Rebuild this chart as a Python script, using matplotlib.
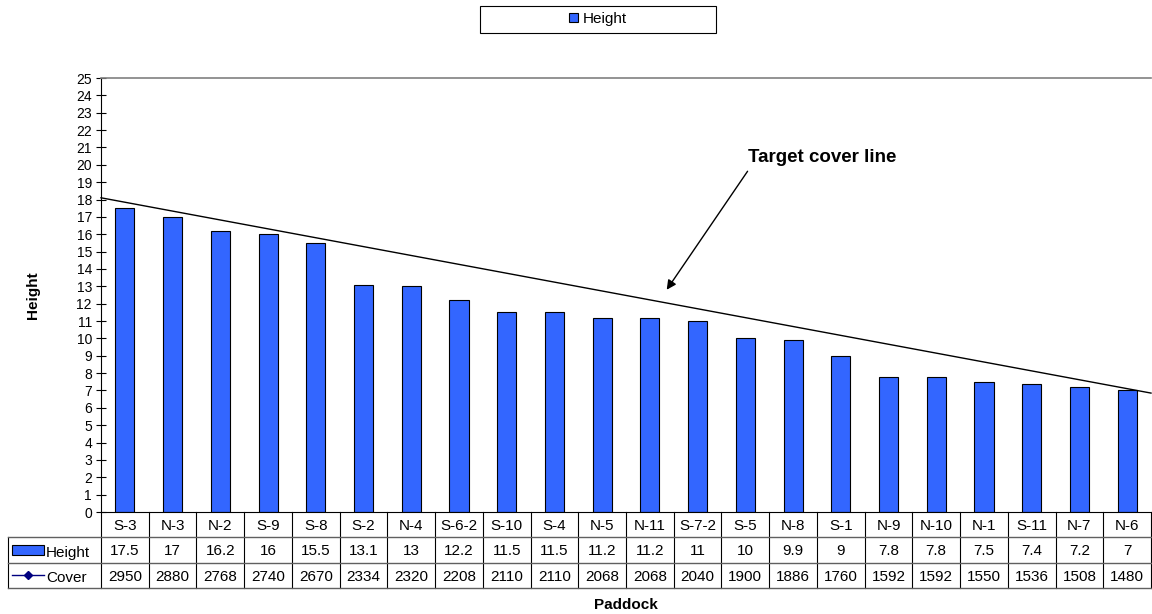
import matplotlib.pyplot as plt
from matplotlib.patches import Rectangle

plt.rcParams['font.family'] = ['Liberation Sans', 'DejaVu Sans']

paddocks = ['S-3', 'N-3', 'N-2', 'S-9', 'S-8', 'S-2', 'N-4', 'S-6-2', 'S-10', 'S-4', 'N-5',
            'N-11', 'S-7-2', 'S-5', 'N-8', 'S-1', 'N-9', 'N-10', 'N-1', 'S-11', 'N-7', 'N-6']
height = [17.5, 17, 16.2, 16, 15.5, 13.1, 13, 12.2, 11.5, 11.5, 11.2,
          11.2, 11, 10, 9.9, 9, 7.8, 7.8, 7.5, 7.4, 7.2, 7]
cover = [2950, 2880, 2768, 2740, 2670, 2334, 2320, 2208, 2110, 2110, 2068,
         2068, 2040, 1900, 1886, 1760, 1592, 1592, 1550, 1536, 1508, 1480]
target_ends = [18.1, 6.85]  # target cover line, left and right edge of the plot

W, H = 1152, 614
fig = plt.figure(figsize=(W / 100, H / 100), dpi=100)

x0, x1 = 101, 1151
ax = fig.add_axes([x0 / W, 1 - 512 / H, (x1 - x0) / W, (512 - 78) / H])
n = len(paddocks)
xs = list(range(n))
ax.bar(xs, height, width=0.4, color='#3366FF', edgecolor='black', linewidth=0.8, zorder=2)
ax.set_xlim(-0.5, n - 0.5)
ax.set_ylim(0, 25)
ax.set_yticks(range(0, 26))
ax.tick_params(axis='y', direction='inout', length=7, labelsize=10, pad=3)
ax.set_xticks([])
ax.spines['top'].set_color('#808080')
ax.spines['top'].set_linewidth(1.2)
ax.spines['right'].set_visible(False)
ax.spines['left'].set_linewidth(0.8)
ax.spines['bottom'].set_linewidth(0.8)

ax.plot([-0.5, n - 0.5], target_ends, color='black', linewidth=1, zorder=3, clip_on=False)
ax.text(14.61, 20.4, 'Target cover line', ha='center', va='center', fontsize=13.5, fontweight='bold')
ax.annotate('', xy=(11.32, 12.67), xytext=(13.08, 19.76),
            arrowprops=dict(arrowstyle='-|>', color='black', lw=1, mutation_scale=14))

fig.text(33 / W, 1 - 295 / H, 'Height', rotation=90, ha='center', va='center',
         fontsize=11, fontweight='bold')
fig.text(626 / W, 1 - 605 / H, 'Paddock', ha='center', va='center', fontsize=11, fontweight='bold')

# data table under the chart
tx = fig.add_axes([x0 / W, 1 - 588 / H, (x1 - x0) / W, (588 - 512) / H])
tx.set_xlim(-0.5, n - 0.5)
tx.set_ylim(3, 0)
tx.axis('off')
colw = (x1 - x0) / n
left = -0.5 - (x0 - 8) / colw
for i in range(n + 1):
    tx.plot([i - 0.5, i - 0.5], [0, 3], color='black', lw=0.8, clip_on=False)
tx.plot([left, left], [1, 3], color='black', lw=0.8, clip_on=False)
for r in [1, 2, 3]:
    tx.plot([left, n - 0.5], [r, r], color='#606060', lw=1, clip_on=False)
for i in range(n):
    tx.text(i, 0.55, paddocks[i], ha='center', va='center', fontsize=11)
    tx.text(i, 1.55, f'{height[i]:g}', ha='center', va='center', fontsize=11)
    tx.text(i, 2.55, str(cover[i]), ha='center', va='center', fontsize=11)

kx0 = left + 4 / colw
kx1 = left + 36 / colw
tx.add_patch(Rectangle((kx0, 1.3), kx1 - kx0, 0.4, facecolor='#3366FF', edgecolor='black',
                       lw=0.8, clip_on=False))
tx.text(left + 38 / colw, 1.6, 'Height', ha='left', va='center', fontsize=11)
tx.plot([kx0, kx1], [2.5, 2.5], color='#000080', lw=1, clip_on=False)
tx.plot([(kx0 + kx1) / 2], [2.5], marker='D', color='#000080', markersize=4, clip_on=False)
tx.text(left + 38 / colw, 2.6, 'Cover', ha='left', va='center', fontsize=11)

# legend box at top
fig.patches.append(Rectangle((480 / W, 1 - 33 / H), 236 / W, 27 / H, transform=fig.transFigure,
                             facecolor='white', edgecolor='black', lw=0.8))
handle = Rectangle((0, 0), 1, 1, facecolor='#3366FF', edgecolor='black', lw=0.8)
fig.legend([handle], ['Height'], loc='center', bbox_to_anchor=(598 / W, 1 - 19 / H),
           frameon=False, fontsize=11, handlelength=0.6, handleheight=0.6, handletextpad=0.3)

fig.savefig('out.png', dpi=100)
